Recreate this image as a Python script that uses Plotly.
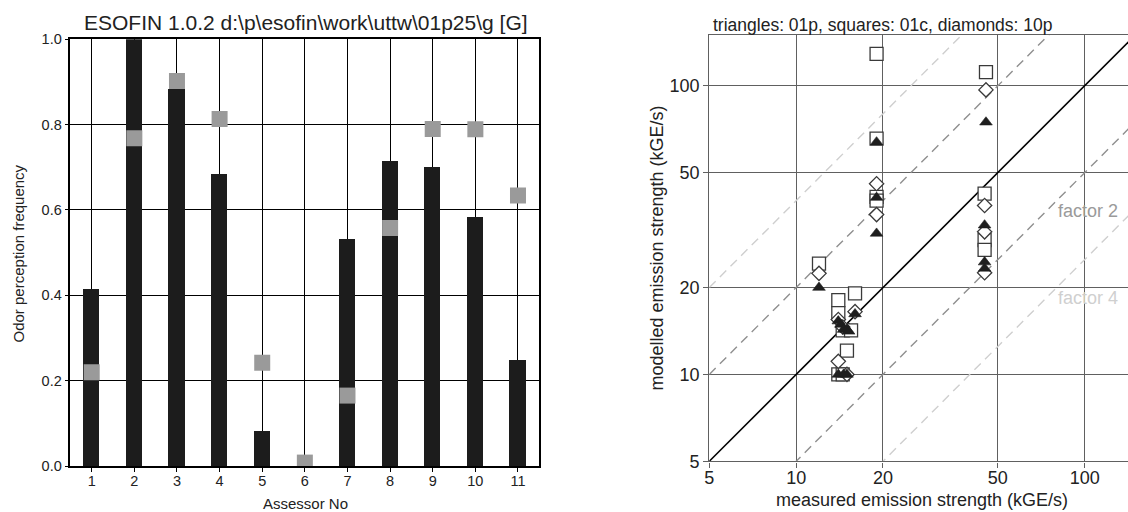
import plotly.graph_objects as go
import math

# ---------------- left chart data ----------------
assessors = [1, 2, 3, 4, 5, 6, 7, 8, 9, 10, 11]
bar_freq = [0.414, 1.0, 0.883, 0.684, 0.082, 0.0, 0.532, 0.715, 0.699, 0.583, 0.248]
marker_freq = [0.22, 0.768, 0.902, 0.813, 0.242, 0.008, 0.165, 0.558, 0.790, 0.789, 0.634]
left_yticks = [0.0, 0.2, 0.4, 0.6, 0.8, 1.0]
left_yticklabels = ["0.0", "0.2", "0.4", "0.6", "0.8", "1.0"]

# ---------------- right chart data ----------------
tri_x = [12, 14, 14.3, 14.6, 15, 15.2, 14, 14.6, 15, 16, 19, 19, 19, 45.5, 45, 45, 45]
tri_y = [20, 15.3, 14.9, 14.3, 14.3, 14.1, 10, 10, 10, 16.2, 63.8, 41, 30.8, 74.8, 32.9, 24.5, 23.3]
sq_x = [12, 14, 14, 14.5, 15.5, 15, 16, 14, 14.5, 19, 19, 19, 19, 45.5, 45, 45, 45]
sq_y = [24.2, 18.1, 16.3, 14.2, 14.2, 12.1, 19.1, 10, 10, 129, 65.6, 41.2, 40, 111.5, 42.3, 29.2, 27]
dia_x = [12, 14, 14.5, 16, 14, 15, 19, 19, 45.5, 45, 45, 45]
dia_y = [22.4, 15.5, 14.6, 16.5, 11.1, 10, 45.8, 35.8, 96.8, 38.5, 31.2, 22.5]
ref_x = [5, 150]
factor_lines = [
    (1, "black", "solid", 1.6),
    (2, "#8f8f8f", "9px,6px", 1.4),
    (0.5, "#8f8f8f", "9px,6px", 1.4),
    (4, "#cfcfcf", "9px,6px", 1.4),
    (0.25, "#cfcfcf", "9px,6px", 1.4),
]
log_ticks = [5, 10, 20, 50, 100]
log_ticklabels = ["5", "10", "20", "50", "100"]

W, H = 1128, 512
FONT = "Liberation Sans, Arial, Helvetica, sans-serif"

fig = go.Figure()

# left: bars and gray squares
fig.add_trace(go.Bar(
    x=assessors, y=bar_freq, width=0.38,
    marker=dict(color="#1c1c1c", line=dict(width=0)),
    xaxis="x", yaxis="y", showlegend=False,
))
fig.add_trace(go.Scatter(
    x=assessors, y=marker_freq, mode="markers",
    marker=dict(symbol="square", size=16, color="#9a9a9a", line=dict(width=0)),
    xaxis="x", yaxis="y", showlegend=False, cliponaxis=True,
))

# right: reference lines
for f, col, dash, w in factor_lines:
    fig.add_trace(go.Scatter(
        x=ref_x, y=[f * v for v in ref_x], mode="lines",
        line=dict(color=col, dash=dash, width=w),
        xaxis="x2", yaxis="y2", showlegend=False, hoverinfo="skip",
    ))

# right: markers
fig.add_trace(go.Scatter(
    x=sq_x, y=sq_y, mode="markers",
    marker=dict(symbol="square", size=13, color="white", line=dict(color="#3a3a3a", width=1.3)),
    xaxis="x2", yaxis="y2", showlegend=False,
))
fig.add_trace(go.Scatter(
    x=dia_x, y=dia_y, mode="markers",
    marker=dict(symbol="diamond", size=11, color="white", line=dict(color="#3a3a3a", width=1.3)),
    xaxis="x2", yaxis="y2", showlegend=False,
))
fig.add_trace(go.Scatter(
    x=tri_x, y=tri_y, mode="markers",
    marker=dict(symbol="triangle-up", size=11, color="#1e1e1e", line=dict(color="#1e1e1e", width=0.6)),
    xaxis="x2", yaxis="y2", showlegend=False,
))

def px_x(p):
    return p / W

def px_y(p):
    return 1 - p / H

fig.update_layout(
    width=W, height=H,
    margin=dict(l=0, r=0, t=0, b=0),
    paper_bgcolor="white", plot_bgcolor="white",
    font=dict(family=FONT, color="#222222"),
    xaxis=dict(
        domain=[px_x(70.4), px_x(539.3)], range=[0.5, 11.5],
        tickmode="array", tickvals=assessors, ticktext=[str(a) for a in assessors],
        showgrid=True, gridcolor="black", gridwidth=1.2,
        showline=True, linecolor="black", linewidth=1.5, mirror=True,
        ticks="outside", ticklen=4, tickcolor="black", tickwidth=1.2,
        tickfont=dict(size=14.5, color="#222"), zeroline=False, automargin=False,
        ticklabelstandoff=-3, anchor="y",
    ),
    yaxis=dict(
        domain=[px_y(466), px_y(39.3)], range=[0, 1],
        tickmode="array", tickvals=left_yticks, ticktext=left_yticklabels,
        showgrid=True, gridcolor="black", gridwidth=1.2,
        showline=True, linecolor="black", linewidth=1.5, mirror=True,
        ticks="outside", ticklen=4, tickcolor="black", tickwidth=1.2,
        tickfont=dict(size=14.5, color="#222"), zeroline=False, automargin=False,
        anchor="x",
    ),
    xaxis2=dict(
        type="log", domain=[px_x(709.3), 1.0],
        range=[math.log10(5), math.log10(5) + (W - 709.3) / 288.5],
        tickmode="array", tickvals=log_ticks, ticktext=log_ticklabels,
        showgrid=True, gridcolor="#606060", gridwidth=1.2,
        showline=True, linecolor="#606060", linewidth=1.4, mirror=True,
        ticks="outside", ticklen=5, tickcolor="#606060", tickwidth=1.2,
        tickfont=dict(size=18, color="#222"), zeroline=False, automargin=False,
        ticklabelstandoff=-5, anchor="y2",
    ),
    yaxis2=dict(
        type="log", domain=[px_y(461.3), px_y(35)],
        range=[math.log10(5), math.log10(150)],
        tickmode="array", tickvals=log_ticks, ticktext=log_ticklabels,
        showgrid=True, gridcolor="#606060", gridwidth=1.2,
        showline=True, linecolor="#606060", linewidth=1.4, mirror=False,
        ticks="outside", ticklen=5, tickcolor="#606060", tickwidth=1.2,
        tickfont=dict(size=18, color="#222"), zeroline=False, automargin=False,
        anchor="x2",
    ),
    bargap=0,
)

ann = [
    dict(text="ESOFIN 1.0.2 d:\\p\\esofin\\work\\uttw\\01p25\\g [G]", x=px_x(305.5), y=px_y(22),
         font=dict(size=21, color="#222")),
    dict(text="Odor perception frequency", x=px_x(18), y=px_y(253.5), textangle=-90,
         font=dict(size=15, color="#222")),
    dict(text="Assessor No", x=px_x(305), y=px_y(503), font=dict(size=15, color="#222")),
    dict(text="triangles: 01p, squares: 01c, diamonds: 10p", x=px_x(711), y=px_y(25),
         xanchor="left", font=dict(size=17.5, color="#222")),
    dict(text="measured emission strength (kGE/s)", x=px_x(922), y=px_y(500),
         font=dict(size=18, color="#222")),
    dict(text="modelled emission strength (kGE/s)", x=px_x(656), y=px_y(248.5), textangle=-90,
         font=dict(size=18, color="#222")),
    dict(text="factor 2", x=px_x(1088), y=px_y(211), font=dict(size=18, color="#9a9a9a")),
    dict(text="factor 4", x=px_x(1088), y=px_y(297.5), font=dict(size=18, color="#cfcfcf")),
]
for a in ann:
    a.setdefault("xanchor", "center")
    a.update(xref="paper", yref="paper", yanchor="middle", showarrow=False)
fig.update_layout(annotations=ann)

fig.write_html(
    "out.html",
    config={"displayModeBar": False},
    post_script="document.body.style.margin='0';document.body.style.overflow='hidden';",
)
